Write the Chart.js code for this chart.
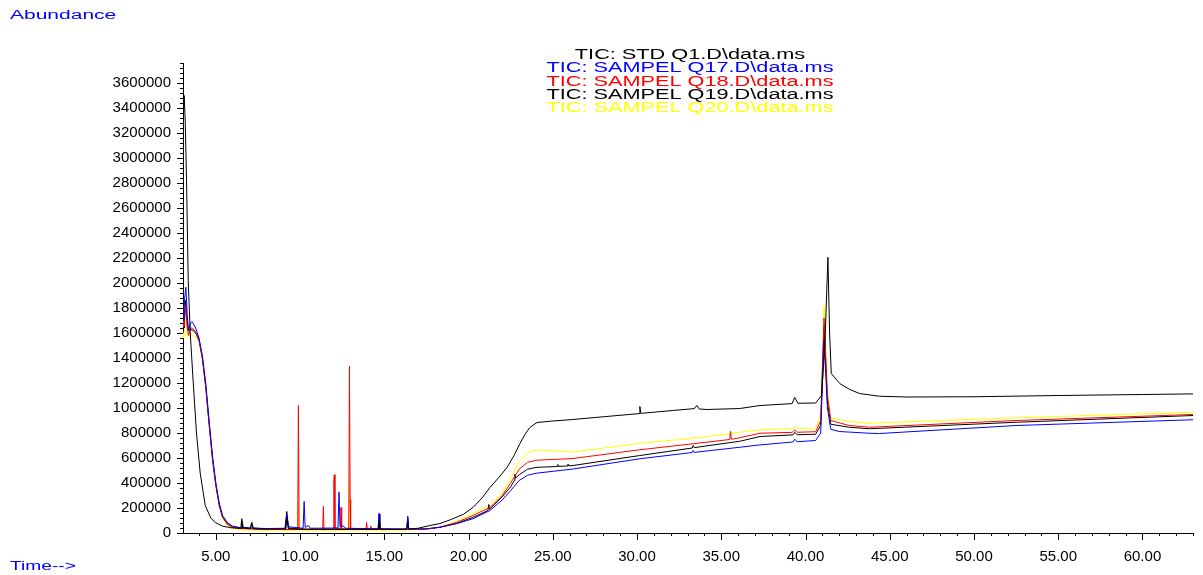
<!DOCTYPE html>
<html>
<head>
<meta charset="utf-8">
<script src="https://cdn.jsdelivr.net/npm/chart.js@4"></script>
<style>
html,body{margin:0;padding:0;background:#fff;}
#wrap{width:1203px;height:575px;}
</style>
</head>
<body>
<div id="wrap"><canvas id="c" width="1203" height="575"></canvas></div>
<script>
// ---------- data (retention time in min, abundance) ----------
const stdTime = [3.05,3.12,3.18,3.26,3.36,3.48,3.65,3.85,4.07,4.37,4.7,4.96,5.4,5.9,6.5,6.54,6.6,7.05,7.13,7.22,7.5,9.15,9.21,9.3,10.0,14.65,14.69,14.75,16.0,16.34,16.39,16.44,17.0,17.7,18.3,19.0,19.7,20.26,20.8,21.27,21.8,22.28,22.7,23.05,23.35,23.64,24.06,25.0,26.19,28.0,30.12,30.17,30.22,32.12,33.4,33.55,33.7,34.14,36.1,37.3,39.2,39.36,39.55,40.6,40.95,41.15,41.33,41.43,41.53,42.03,42.6,43.2,44.4,46.0,50.0,55.0,60.0,63.0];
const stdAbund = [3250000,3500000,3300000,2820000,2020000,1600000,1220000,800000,480000,220000,120000,84000,55000,42000,36000,90000,40000,34000,70000,33000,32000,32000,120000,35000,30000,30000,90000,30000,30000,31000,90000,31000,38000,60000,76000,110000,150000,204000,280000,364000,445000,524000,620000,716000,790000,844000,884000,896000,908000,930000,955000,1012000,957000,980000,995000,1020000,992000,988000,996000,1020000,1035000,1085000,1038000,1040000,1100000,1500000,2206000,1600000,1276000,1196000,1150000,1116000,1094000,1088000,1090000,1100000,1108000,1113000];

const q17Time = [3.05,3.1,3.15,3.22,3.3,3.38,3.5,3.6,3.8,4.0,4.2,4.4,4.6,4.8,5.0,5.2,5.4,5.7,6.0,6.5,7.0,8.0,9.15,9.21,9.3,10.18,10.24,10.3,10.5,10.6,12.25,12.31,12.37,12.5,12.7,14.63,14.69,14.75,16.33,16.39,16.45,17.5,18.3,19.3,20.26,21.27,22.0,22.5,23.0,23.5,24.0,26.2,30.17,33.28,33.33,33.4,36.1,37.3,39.25,39.36,39.5,40.6,40.9,41.1,41.3,41.5,42.0,43.8,44.4,52.5,63.0];
const q17Abund = [1780000,1700000,1880000,1966000,1750000,1620000,1680000,1690000,1640000,1560000,1420000,1200000,900000,620000,400000,240000,140000,80000,55000,42000,40000,36000,38000,150000,50000,38000,252000,45000,60000,38000,40000,326000,50000,60000,38000,34000,158000,34000,32000,134000,32000,34000,46000,75000,114000,180000,265000,340000,420000,462000,478000,512000,594000,644000,660000,645000,686000,705000,728000,750000,730000,740000,800000,1550000,1000000,830000,812000,798000,796000,860000,906000];

const q18Time = [3.05,3.1,3.15,3.22,3.3,3.38,3.5,3.6,3.8,4.0,4.2,4.4,4.6,4.8,5.0,5.2,5.4,5.7,6.0,6.5,8.0,9.86,9.9,9.94,11.34,11.38,11.42,11.97,12.0,12.03,12.07,12.39,12.43,12.47,12.89,12.93,12.97,13.0,13.91,13.95,13.99,14.17,14.2,14.23,16.0,17.5,18.3,19.3,20.26,21.27,22.0,22.5,23.0,23.5,24.0,26.2,30.17,33.33,35.5,35.55,35.6,36.1,37.3,39.2,39.36,39.5,40.6,40.9,41.1,41.3,41.5,42.6,43.8,52.5,63.0];
const q18Abund = [1720000,1650000,1760000,1820000,1640000,1580000,1640000,1640000,1610000,1550000,1400000,1170000,880000,600000,390000,230000,130000,70000,45000,35000,28000,28000,1020000,30000,28000,214000,30000,30000,400000,466000,40000,35000,204000,35000,30000,1334000,268000,30000,28000,84000,28000,28000,55000,28000,28000,32000,46000,85000,140000,205000,300000,400000,510000,565000,582000,596000,666000,714000,748000,814000,750000,762000,798000,805000,825000,806000,810000,900000,1720000,1100000,900000,860000,846000,900000,948000];

const q19Time = [3.05,3.12,3.2,3.28,3.38,3.5,3.65,3.8,4.0,4.2,4.4,4.6,4.8,5.0,5.2,5.4,5.7,6.0,6.48,6.54,6.62,7.05,7.13,7.22,8.0,9.1,9.21,9.32,10.3,14.64,14.69,14.74,16.34,16.39,16.44,17.5,18.3,19.3,20.26,21.15,21.2,21.25,22.0,22.5,22.72,22.75,22.78,23.0,23.5,24.0,25.25,25.3,25.35,25.85,25.9,25.95,26.2,30.17,33.28,33.33,33.4,36.1,37.3,39.25,39.36,39.5,40.6,40.9,41.1,41.3,41.5,42.6,43.8,52.5,63.0];
const q19Abund = [1700000,1640000,1860000,1700000,1620000,1630000,1620000,1600000,1540000,1400000,1170000,870000,590000,380000,220000,125000,70000,48000,40000,114000,45000,40000,86000,40000,32000,35000,172000,40000,30000,30000,150000,30000,30000,125000,30000,32000,46000,78000,125000,180000,228000,190000,290000,370000,420000,470000,440000,465000,510000,525000,532000,548000,533000,536000,552000,537000,540000,620000,680000,700000,683000,734000,772000,785000,806000,786000,790000,860000,1650000,1050000,870000,846000,834000,886000,940000];

const q20Time = [3.05,3.1,3.18,3.25,3.32,3.45,3.6,3.8,4.0,4.2,4.4,4.6,4.8,5.0,5.2,5.4,5.7,6.0,6.5,8.0,9.86,9.9,9.94,12.89,12.93,12.97,16.0,17.5,18.3,19.3,20.26,21.27,22.0,22.5,23.0,23.5,24.0,24.5,26.2,30.17,33.28,33.33,33.4,36.1,37.3,39.25,39.36,39.5,40.6,40.9,41.1,41.3,41.5,42.6,43.8,52.5,63.0];
const q20Abund = [1600000,1560000,1700000,1836000,1566000,1600000,1580000,1566000,1530000,1380000,1150000,860000,580000,370000,210000,115000,60000,35000,25000,22000,22000,260000,22000,22000,444000,22000,22000,30000,46000,95000,156000,220000,320000,440000,570000,640000,662000,662000,648000,718000,758000,775000,760000,806000,826000,835000,856000,836000,840000,940000,1820000,1150000,920000,892000,878000,922000,966000];

const seriesNames = ['TIC: STD Q1.D\\data.ms','TIC: SAMPEL Q17.D\\data.ms','TIC: SAMPEL Q18.D\\data.ms','TIC: SAMPEL Q19.D\\data.ms','TIC: SAMPEL Q20.D\\data.ms'];
const seriesColors = ['#000000','#0000ff','#ff0000','#000000','#ffff00'];

// axis ranges and tick values
const xMin = 3.05, xMax = 63.0;
const yMin = 0, yMax = 3760000;
const xTickLabels = [5,10,15,20,25,30,35,40,45,50,55,60];
const yTickLabels = [0,200000,400000,600000,800000,1000000,1200000,1400000,1600000,1800000,2000000,2200000,2400000,2600000,2800000,3000000,3200000,3400000,3600000];
const xMinorStep = 1, yMinorStep = 40000;

// ---------- build ----------
function pts(t, a){ return t.map((v,i)=>({x:v, y:a[i]})); }
const allSeries = [[stdTime,stdAbund],[q17Time,q17Abund],[q18Time,q18Abund],[q19Time,q19Abund],[q20Time,q20Abund]];
const datasets = allSeries.map((s,i)=>({
  label: seriesNames[i],
  data: pts(s[0], s[1]),
  borderColor: seriesColors[i],
  backgroundColor: seriesColors[i],
  borderWidth: 1,
  pointRadius: 0,
  tension: 0,
  fill: false
}));

Chart.defaults.font.family = "'Liberation Sans', Arial, sans-serif";
Chart.defaults.color = '#000';

function stretchText(ctx, text, x, y, font, color, sx, align){
  ctx.save();
  ctx.font = font;
  ctx.fillStyle = color;
  ctx.textBaseline = 'middle';
  const w = ctx.measureText(text).width * sx;
  let left = x;
  if (align === 'center') left = x - w/2;
  ctx.translate(left, y);
  ctx.scale(sx, 1);
  ctx.textAlign = 'left';
  ctx.fillText(text, 0, 0);
  ctx.restore();
}

const decor = {
  id: 'decor',
  afterDraw(chart){
    const ctx = chart.ctx;
    const xs = chart.scales.x, ys = chart.scales.y, ca = chart.chartArea;
    ctx.save();
    ctx.strokeStyle = '#000';
    ctx.lineWidth = 1;
    ctx.beginPath();
    for (let t = Math.ceil(xMin); t <= xMax; t += xMinorStep){
      const px = Math.round(xs.getPixelForValue(t)) + 0.5;
      const len = xTickLabels.includes(t) ? 7 : 3;
      ctx.moveTo(px, ca.bottom);
      ctx.lineTo(px, ca.bottom + len);
    }
    for (let v = 0; v <= yMax; v += yMinorStep){
      const py = Math.round(ys.getPixelForValue(v)) + 0.5;
      const len = yTickLabels.includes(v) ? 6 : 3;
      ctx.moveTo(ca.left, py);
      ctx.lineTo(ca.left - len, py);
    }
    ctx.stroke();
    ctx.restore();

    const f12 = "12px 'Liberation Sans', Arial, sans-serif";
    stretchText(ctx, 'Abundance', 10, 16, f12, '#0000ff', 1.75, 'left');
    stretchText(ctx, 'Time-->', 10, 567, f12, '#0000ff', 1.6, 'left');

    const f14 = "14px 'Liberation Sans', Arial, sans-serif";
    const ly = [55, 68.5, 82, 95, 108];
    seriesNames.forEach((n,i)=>{
      stretchText(ctx, n, 690, ly[i], f14, seriesColors[i], 1.55, 'center');
    });
  }
};

new Chart(document.getElementById('c'), {
  type: 'line',
  data: { datasets },
  options: {
    responsive: false,
    animation: false,
    devicePixelRatio: 1,
    layout: { padding: { top: 63, right: 10, left: 0, bottom: 0 } },
    plugins: { legend: { display: false }, tooltip: { enabled: false } },
    scales: {
      x: {
        type: 'linear',
        min: xMin, max: xMax,
        grid: { display: false },
        border: { display: true, color: '#000', width: 1 },
        afterBuildTicks: s => { s.ticks = xTickLabels.map(v => ({ value: v })); },
        ticks: {
          autoSkip: false,
          maxRotation: 0,
          padding: 7,
          color: '#000',
          font: { size: 15 },
          callback: v => Number(v).toFixed(2)
        },
        afterFit: s => { s.height = 42; }
      },
      y: {
        type: 'linear',
        min: yMin, max: yMax,
        grid: { display: false },
        border: { display: true, color: '#000', width: 1 },
        afterBuildTicks: s => { s.ticks = yTickLabels.map(v => ({ value: v })); },
        ticks: {
          autoSkip: false,
          padding: 4,
          color: '#000',
          font: { size: 15 },
          callback: v => String(v)
        },
        afterFit: s => { s.width = 183; }
      }
    }
  },
  plugins: [decor]
});
</script>
</body>
</html>
